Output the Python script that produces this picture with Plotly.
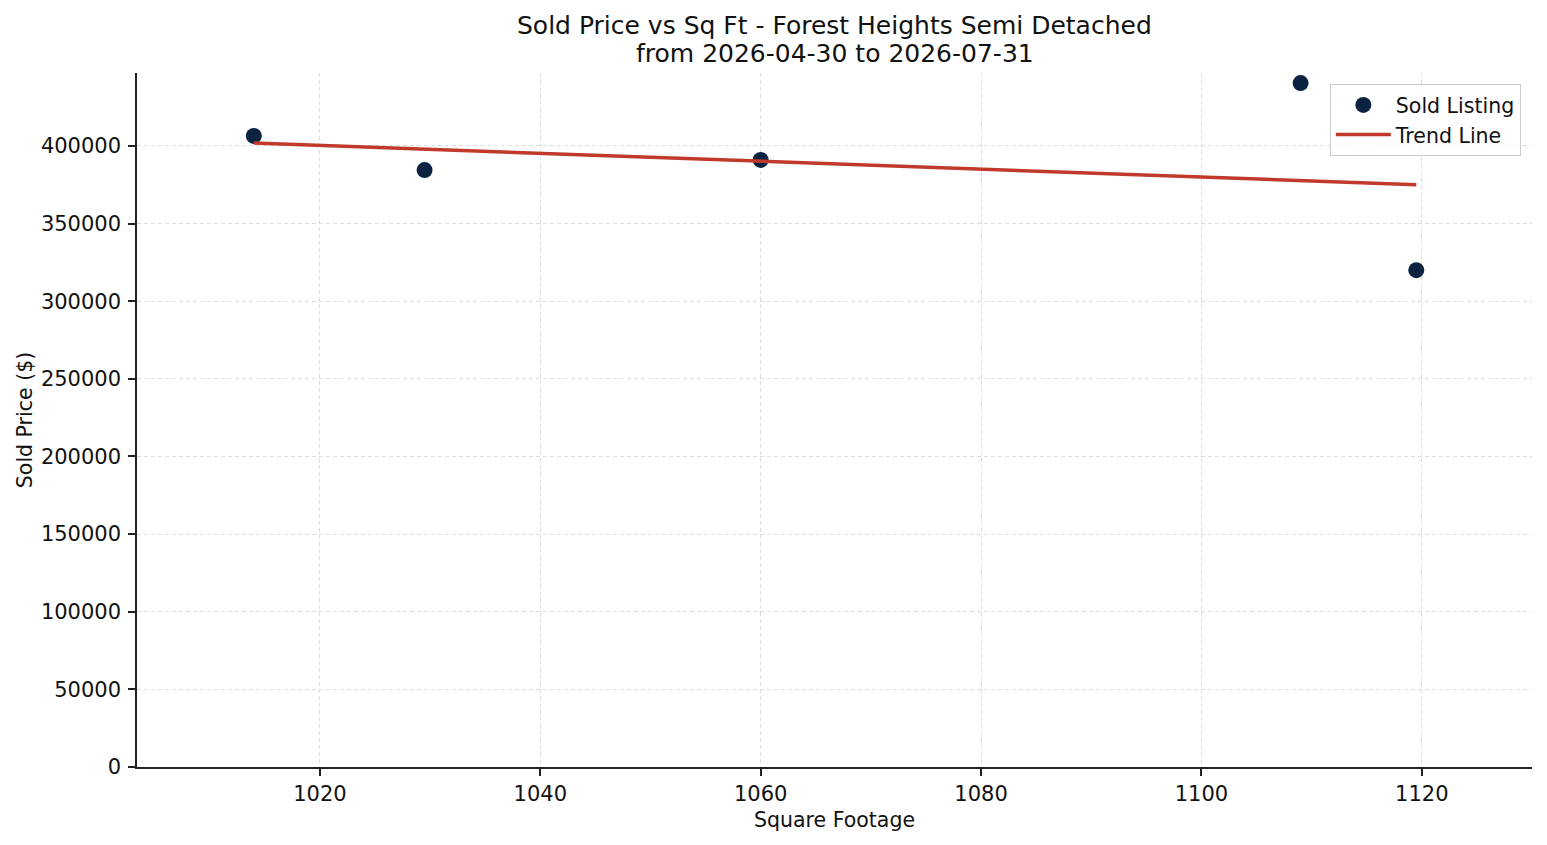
"""
Sold price vs square footage scatter with trend line.
"""
import plotly.graph_objects as go

# Sold listings
sqft = [1014, 1029.5, 1060, 1109, 1119.5]
sold_price = [406500, 384500, 391000, 440500, 320000]

# Trend line endpoints
trend_x = [1014, 1119.5]
trend_y = [401900, 375000]

x_ticks = [1020, 1040, 1060, 1080, 1100, 1120]
y_ticks = [0, 50000, 100000, 150000, 200000, 250000, 300000, 350000, 400000]

title_lines = ["Sold Price vs Sq Ft - Forest Heights Semi Detached",
               "from 2026-04-30 to 2026-07-31"]

FONT = "DejaVu Sans, Noto Sans, sans-serif"

fig = go.Figure()
fig.add_trace(go.Scatter(
    x=sqft, y=sold_price, mode="markers", name="Sold Listing",
    marker=dict(color="#0b2341", size=16, line=dict(width=0)),
))
fig.add_trace(go.Scatter(
    x=trend_x, y=trend_y, mode="lines", name="Trend Line",
    line=dict(color="#c0392b", width=3.5),
))

axis_common = dict(
    showline=True, linecolor="#222222", linewidth=1.5,
    ticks="outside", ticklen=7, tickwidth=1.5, tickcolor="#222222",
    showgrid=True, gridcolor="#dcdcdc", gridwidth=1, griddash="4px,3px",
    zeroline=False, mirror=False,
    tickfont=dict(size=21, color="#111111"),
    title_font=dict(size=20.5, color="#111111"),
)

# page body adds an 8px margin, so the figure is a bit smaller than the window
fig.update_layout(
    width=1531, height=829,
    font=dict(family=FONT, color="#111111"),
    paper_bgcolor="white", plot_bgcolor="white",
    margin=dict(l=129, r=7, t=65, b=70),
    showlegend=True,
    legend=dict(x=0.992, xanchor="right", y=0.984, yanchor="top",
                bgcolor="rgba(255,255,255,0.85)", bordercolor="#cccccc",
                borderwidth=1, font=dict(size=20.5, color="#111111"),
                itemwidth=55),
    xaxis=dict(range=[1003.4, 1130], tickvals=x_ticks,
               title=dict(text="Square Footage", standoff=8), **axis_common),
    yaxis=dict(range=[0, 447000], tickvals=y_ticks, tickformat="d",
               ticklabelstandoff=3,
               title=dict(text="Sold Price ($)", standoff=3), **axis_common),
)

# two-line title, one annotation per line
for line, shift in zip(title_lines, [48, 20]):
    fig.add_annotation(
        text=line, xref="paper", yref="paper", x=0.5, y=1,
        xanchor="center", yanchor="middle", yshift=shift, showarrow=False,
        font=dict(size=25, color="#111111"),
    )

fig.write_html("out.html")
